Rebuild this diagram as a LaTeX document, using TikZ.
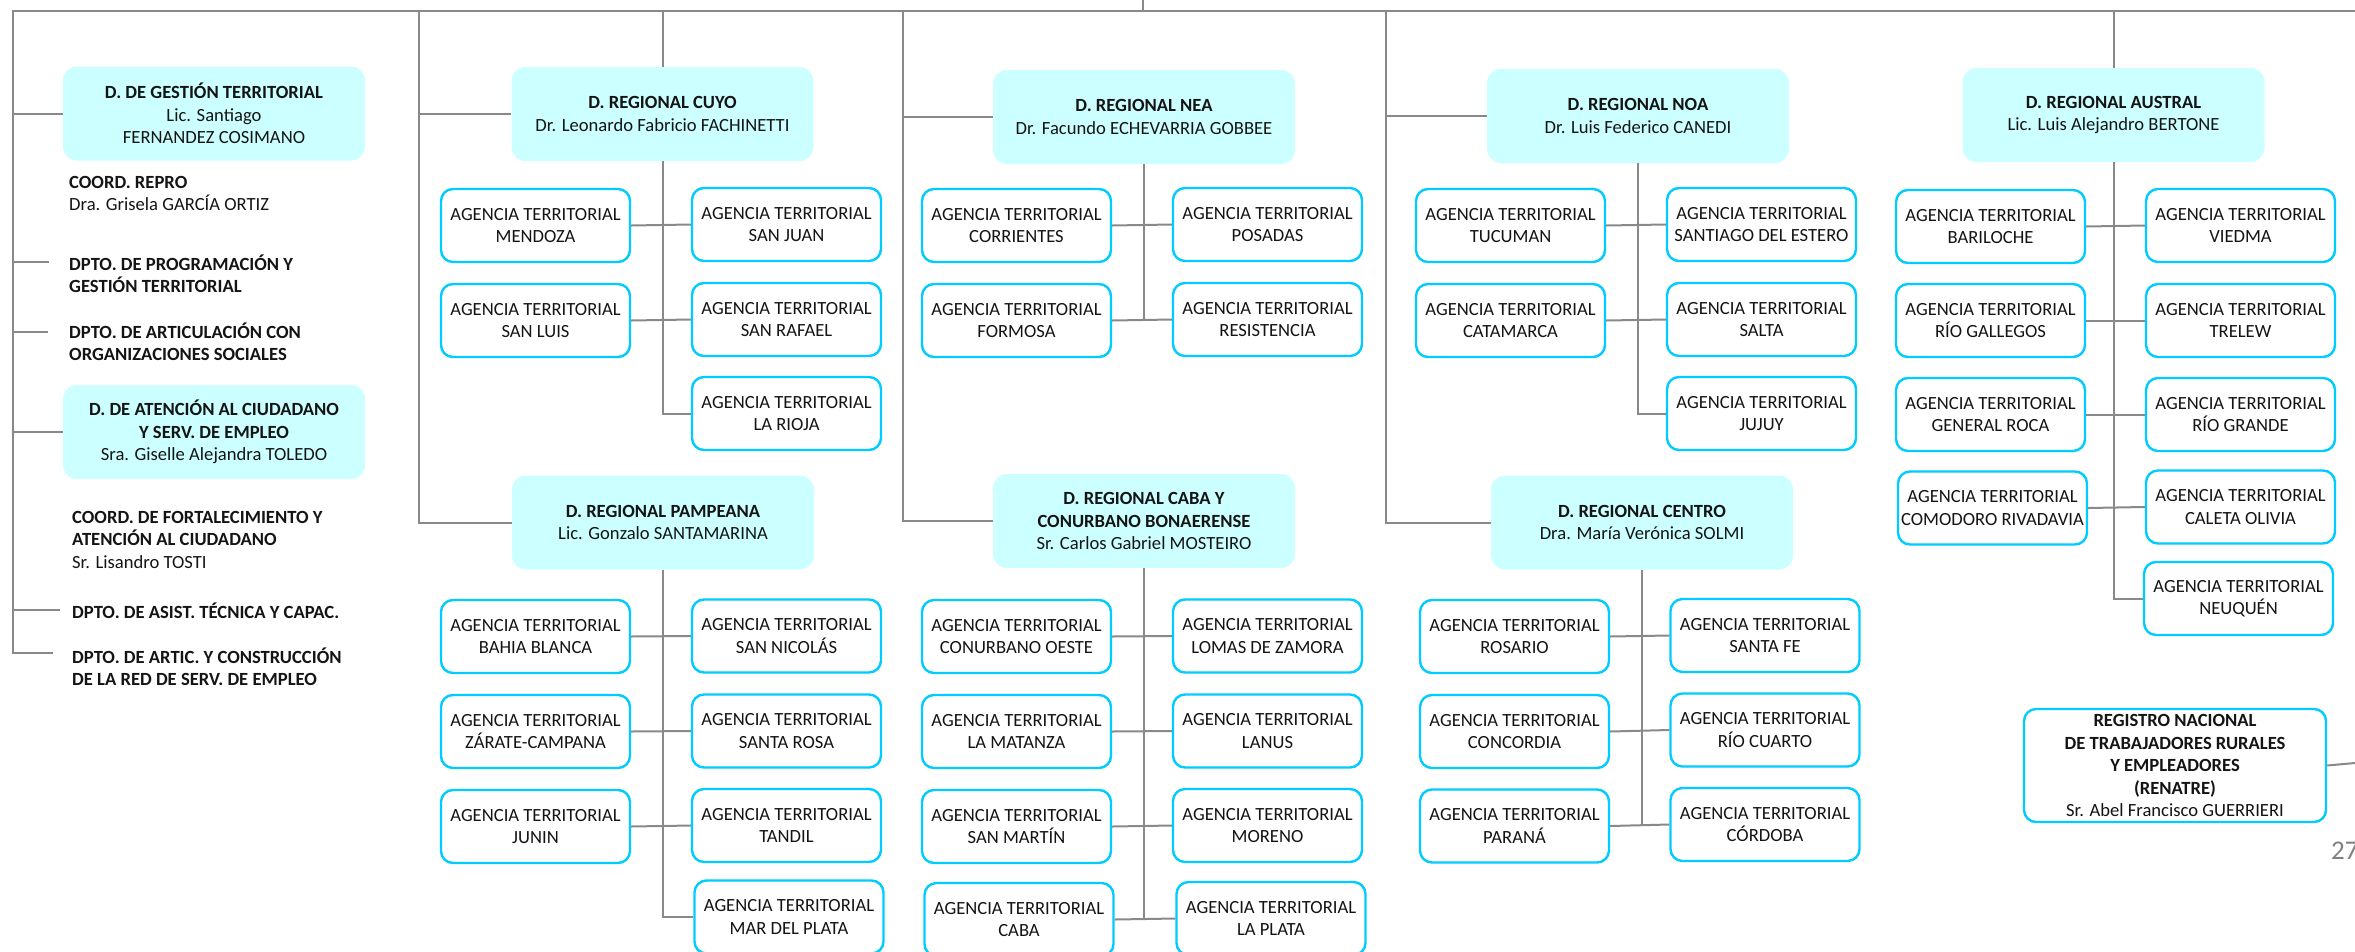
\documentclass[tikz,border=0pt]{standalone}
\usepackage{fontspec}
\setmainfont{Carlito}
\definecolor{lin}{RGB}{137,137,137}
\definecolor{dirfill}{RGB}{204,255,255}
\definecolor{agc}{RGB}{0,204,255}
\definecolor{pgnum}{RGB}{128,128,128}
\definecolor{txt}{RGB}{20,20,20}
\begin{document}
\begin{tikzpicture}[x=1pt,y=-1pt,
  every node/.style={font=\fontsize{18.6}{22.5}\selectfont, inner sep=0pt, text=txt},
  dirbox/.style={rounded corners=14pt, fill=dirfill, minimum width=302pt, minimum height=94pt, align=center},
  agbox/.style={rounded corners=12pt, draw=agc, line width=2.4pt, fill=white, minimum width=189pt, minimum height=73pt, align=center},
  lbl/.style={anchor=north west, align=left},
  conn/.style={draw=lin, line width=2pt}]
\useasboundingbox (0,0) rectangle (2355,951);

% ---------- left column ----------
\node[dirbox] (gest) at (214,113.5) {\textbf{D. DE GESTIÓN TERRITORIAL}\\Lic. Santiago\\FERNANDEZ COSIMANO};
\node[dirbox] (aten) at (214,432) {\textbf{D. DE ATENCIÓN AL CIUDADANO}\\\textbf{Y SERV. DE EMPLEO}\\Sra. Giselle Alejandra TOLEDO};
\node[lbl] (repro) at (69,172.25) {\strut\textbf{COORD. REPRO}\\Dra. Grisela GARCÍA ORTIZ};
\node[lbl] (prog) at (69,254.25) {\strut\textbf{DPTO. DE PROGRAMACIÓN Y}\\\textbf{GESTIÓN TERRITORIAL}};
\node[lbl] (artcon) at (69,322.25) {\strut\textbf{DPTO. DE ARTICULACIÓN CON}\\\textbf{ORGANIZACIONES SOCIALES}};
\node[lbl] (fort) at (72,507.25) {\strut\textbf{COORD. DE FORTALECIMIENTO Y}\\\textbf{ATENCIÓN AL CIUDADANO}\\Sr. Lisandro TOSTI};
\node[lbl] (asist) at (72,602.25) {\strut\textbf{DPTO. DE ASIST. TÉCNICA Y CAPAC.}};
\node[lbl] (artred) at (72,647.25) {\strut\textbf{DPTO. DE ARTIC. Y CONSTRUCCIÓN}\\\textbf{DE LA RED DE SERV. DE EMPLEO}};

% ---------- Cuyo ----------
\node[dirbox] (cuyo) at (662.5,114) {\textbf{D. REGIONAL CUYO}\\Dr. Leonardo Fabricio FACHINETTI};
\node[agbox] (mendoza) at (535.5,225.5) {AGENCIA TERRITORIAL\\MENDOZA};
\node[agbox] (sanluis) at (535.5,320.5) {AGENCIA TERRITORIAL\\SAN LUIS};
\node[agbox] (sanjuan) at (786.5,224.5) {AGENCIA TERRITORIAL\\SAN JUAN};
\node[agbox] (sanrafael) at (786.5,319.5) {AGENCIA TERRITORIAL\\SAN RAFAEL};
\node[agbox] (larioja) at (786.5,413.5) {AGENCIA TERRITORIAL\\LA RIOJA};

% ---------- Pampeana ----------
\node[dirbox] (pampa) at (663,522.5) {\textbf{D. REGIONAL PAMPEANA}\\Lic. Gonzalo SANTAMARINA};
\node[agbox] (bahia) at (535.5,636.5) {AGENCIA TERRITORIAL\\BAHIA BLANCA};
\node[agbox] (zarate) at (535.5,731.5) {AGENCIA TERRITORIAL\\ZÁRATE-CAMPANA};
\node[agbox] (junin) at (535.5,826.5) {AGENCIA TERRITORIAL\\JUNIN};
\node[agbox] (sannicolas) at (786.5,636) {AGENCIA TERRITORIAL\\SAN NICOLÁS};
\node[agbox] (santarosa) at (786.5,731) {AGENCIA TERRITORIAL\\SANTA ROSA};
\node[agbox] (tandil) at (786.5,825.5) {AGENCIA TERRITORIAL\\TANDIL};
\node[agbox] (mardelplata) at (789,917) {AGENCIA TERRITORIAL\\MAR DEL PLATA};

% ---------- NEA ----------
\node[dirbox] (nea) at (1144,117) {\textbf{D. REGIONAL NEA}\\Dr. Facundo ECHEVARRIA GOBBEE};
\node[agbox] (corrientes) at (1016.5,225.5) {AGENCIA TERRITORIAL\\CORRIENTES};
\node[agbox] (formosa) at (1016.5,320.5) {AGENCIA TERRITORIAL\\FORMOSA};
\node[agbox] (posadas) at (1267.5,224.5) {AGENCIA TERRITORIAL\\POSADAS};
\node[agbox] (resistencia) at (1267.5,319.5) {AGENCIA TERRITORIAL\\RESISTENCIA};

% ---------- CABA ----------
\node[dirbox] (caba) at (1144,521) {\textbf{D. REGIONAL CABA Y}\\\textbf{CONURBANO BONAERENSE}\\Sr. Carlos Gabriel MOSTEIRO};
\node[agbox] (conurbano) at (1016.5,636.5) {AGENCIA TERRITORIAL\\CONURBANO OESTE};
\node[agbox] (matanza) at (1016.5,731.5) {AGENCIA TERRITORIAL\\LA MATANZA};
\node[agbox] (sanmartin) at (1016.5,826.5) {AGENCIA TERRITORIAL\\SAN MARTÍN};
\node[agbox] (cabaag) at (1019,919.5) {AGENCIA TERRITORIAL\\CABA};
\node[agbox] (lomas) at (1267.5,636) {AGENCIA TERRITORIAL\\LOMAS DE ZAMORA};
\node[agbox] (lanus) at (1267.5,731) {AGENCIA TERRITORIAL\\LANUS};
\node[agbox] (moreno) at (1267.5,825.5) {AGENCIA TERRITORIAL\\MORENO};
\node[agbox] (laplata) at (1271,918.5) {AGENCIA TERRITORIAL\\LA PLATA};

% ---------- NOA ----------
\node[dirbox] (noa) at (1638,116) {\textbf{D. REGIONAL NOA}\\Dr. Luis Federico CANEDI};
\node[agbox] (tucuman) at (1510.5,225.5) {AGENCIA TERRITORIAL\\TUCUMAN};
\node[agbox] (catamarca) at (1510.5,320.5) {AGENCIA TERRITORIAL\\CATAMARCA};
\node[agbox] (santiago) at (1761.5,224.5) {AGENCIA TERRITORIAL\\SANTIAGO DEL ESTERO};
\node[agbox] (salta) at (1761.5,319.5) {AGENCIA TERRITORIAL\\SALTA};
\node[agbox] (jujuy) at (1761.5,413.5) {AGENCIA TERRITORIAL\\JUJUY};

% ---------- Centro ----------
\node[dirbox] (centro) at (1642,522.5) {\textbf{D. REGIONAL CENTRO}\\Dra. María Verónica SOLMI};
\node[agbox] (rosario) at (1514.5,636.5) {AGENCIA TERRITORIAL\\ROSARIO};
\node[agbox] (concordia) at (1514.5,731.5) {AGENCIA TERRITORIAL\\CONCORDIA};
\node[agbox] (parana) at (1514.5,826) {AGENCIA TERRITORIAL\\PARANÁ};
\node[agbox] (santafe) at (1765,635.5) {AGENCIA TERRITORIAL\\SANTA FE};
\node[agbox] (riocuarto) at (1765,730) {AGENCIA TERRITORIAL\\RÍO CUARTO};
\node[agbox] (cordoba) at (1765,824.5) {AGENCIA TERRITORIAL\\CÓRDOBA};

% ---------- Austral ----------
\node[dirbox] (austral) at (2113.5,115) {\textbf{D. REGIONAL AUSTRAL}\\Lic. Luis Alejandro BERTONE};
\node[agbox] (bariloche) at (1990.5,226.5) {AGENCIA TERRITORIAL\\BARILOCHE};
\node[agbox] (riogallegos) at (1990.5,320.5) {AGENCIA TERRITORIAL\\RÍO GALLEGOS};
\node[agbox] (generalroca) at (1990.5,414.5) {AGENCIA TERRITORIAL\\GENERAL ROCA};
\node[agbox] (comodoro) at (1992.5,508) {AGENCIA TERRITORIAL\\COMODORO RIVADAVIA};
\node[agbox] (viedma) at (2240.5,225.5) {AGENCIA TERRITORIAL\\VIEDMA};
\node[agbox] (trelew) at (2240.5,320.5) {AGENCIA TERRITORIAL\\TRELEW};
\node[agbox] (riogrande) at (2240.5,414.5) {AGENCIA TERRITORIAL\\RÍO GRANDE};
\node[agbox] (caleta) at (2240.5,507) {AGENCIA TERRITORIAL\\CALETA OLIVIA};
\node[agbox] (neuquen) at (2238.5,598.5) {AGENCIA TERRITORIAL\\NEUQUÉN};

% ---------- RENATRE ----------
\node[agbox, minimum width=302pt, minimum height=113pt] (renatre) at (2175,765.5) {\textbf{REGISTRO NACIONAL}\\\textbf{DE TRABAJADORES RURALES}\\\textbf{Y EMPLEADORES}\\\textbf{(RENATRE)}\\Sr. Abel Francisco GUERRIERI};

\node[anchor=base west, font=\fontsize{27}{30}\selectfont, text=pgnum] (pg) at (2331,859) {27};

% ---------- coordinates ----------
\coordinate (top0) at (13,11);
\coordinate (topR) at (2355,11);
\coordinate (par) at (1143,0);
\coordinate (leftEnd) at (13,654);
\coordinate (bProg) at (49,262);
\coordinate (bArt) at (48,332);
\coordinate (bAsist) at (60,610);
\coordinate (bRed) at (53,653);
\coordinate (vCuyo) at (419,11);
\coordinate (vNea) at (903,11);
\coordinate (vNoa) at (1386,11);
\coordinate (renR) at (2355,763);

% ---------- connectors ----------
\draw[conn] (leftEnd) -- (top0) -- (topR);
\draw[conn] (par) -- (par |- top0);
\draw[conn] (gest.west -| top0) -- (gest.west);
\draw[conn] (aten.west -| top0) -- (aten.west);
\draw[conn] (bProg -| top0) -- (bProg);
\draw[conn] (bArt -| top0) -- (bArt);
\draw[conn] (bAsist -| top0) -- (bAsist);
\draw[conn] (bRed -| top0) -- (bRed);

% Cuyo / Pampeana
\draw[conn] (vCuyo) -- (vCuyo |- pampa.west) -- (pampa.west);
\draw[conn] (vCuyo |- cuyo.west) -- (cuyo.west);
\draw[conn] (cuyo.north |- top0) -- (cuyo.north);
\draw[conn] (cuyo.south) -- (cuyo.south |- larioja.west) -- (larioja.west);
\draw[conn] (mendoza.east) -- (sanjuan.west);
\draw[conn] (sanluis.east) -- (sanrafael.west);
\draw[conn] (pampa.south) -- (pampa.south |- mardelplata.west) -- (mardelplata.west);
\draw[conn] (bahia.east) -- (sannicolas.west);
\draw[conn] (zarate.east) -- (santarosa.west);
\draw[conn] (junin.east) -- (tandil.west);

% NEA / CABA
\draw[conn] (vNea) -- (vNea |- caba.west) -- (caba.west);
\draw[conn] (vNea |- nea.west) -- (nea.west);
\draw[conn] (nea.south) -- (nea.south |- resistencia.west);
\draw[conn] (corrientes.east) -- (posadas.west);
\draw[conn] (formosa.east) -- (resistencia.west);
\draw[conn] (caba.south) -- (caba.south |- laplata.west);
\draw[conn] (conurbano.east) -- (lomas.west);
\draw[conn] (matanza.east) -- (lanus.west);
\draw[conn] (sanmartin.east) -- (moreno.west);
\draw[conn] (cabaag.east) -- (laplata.west);

% NOA / Centro
\draw[conn] (vNoa) -- (vNoa |- centro.west) -- (centro.west);
\draw[conn] (vNoa |- noa.west) -- (noa.west);
\draw[conn] (noa.south) -- (noa.south |- jujuy.west) -- (jujuy.west);
\draw[conn] (tucuman.east) -- (santiago.west);
\draw[conn] (catamarca.east) -- (salta.west);
\draw[conn] (centro.south) -- (centro.south |- cordoba.west);
\draw[conn] (rosario.east) -- (santafe.west);
\draw[conn] (concordia.east) -- (riocuarto.west);
\draw[conn] (parana.east) -- (cordoba.west);

% Austral
\draw[conn] (austral.north |- top0) -- (austral.north);
\draw[conn] (austral.south) -- (austral.south |- neuquen.west) -- (neuquen.west);
\draw[conn] (bariloche.east) -- (viedma.west);
\draw[conn] (riogallegos.east) -- (trelew.west);
\draw[conn] (generalroca.east) -- (riogrande.west);
\draw[conn] (comodoro.east) -- (caleta.west);

% RENATRE
\draw[conn] (renatre.east) -- (renR);
\end{tikzpicture}
\end{document}
